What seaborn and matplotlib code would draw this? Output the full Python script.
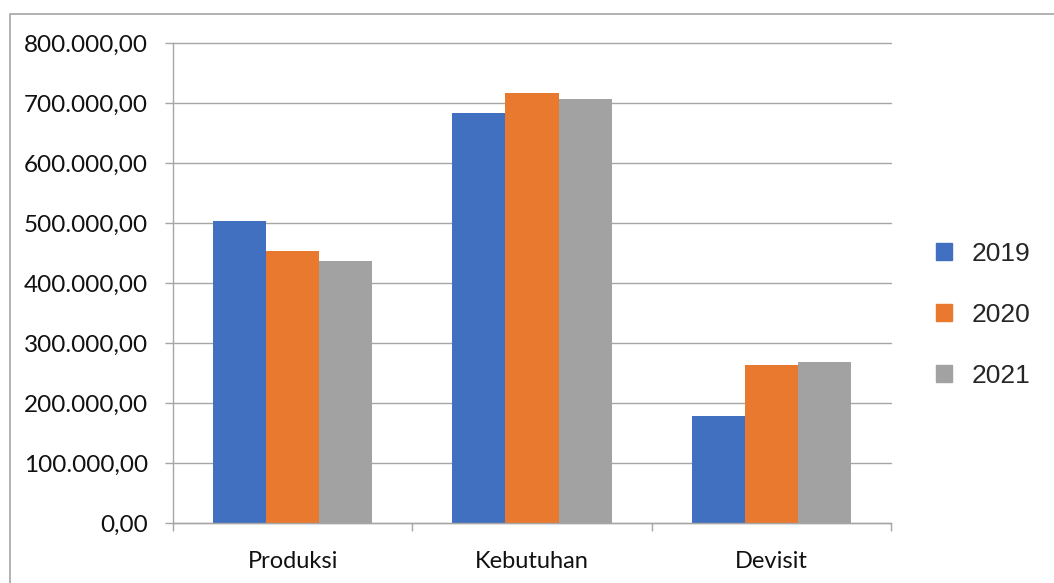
import matplotlib
matplotlib.use("Agg")
import matplotlib.pyplot as plt
import seaborn as sns
import pandas as pd
from matplotlib.patches import Rectangle
from matplotlib.ticker import FuncFormatter, MultipleLocator

categories = ["Produksi", "Kebutuhan", "Devisit"]
years = ["2019", "2020", "2021"]
values_2019 = [504300, 684000, 178000]
values_2020 = [453600, 717400, 263800]
values_2021 = [437900, 706700, 268800]
colors = ["#4170C0", "#E8792F", "#A2A2A2"]

rows = []
for yr, vals in zip(years, [values_2019, values_2020, values_2021]):
    for c, v in zip(categories, vals):
        rows.append({"Kategori": c, "Tahun": yr, "Nilai": v})
df = pd.DataFrame(rows)

sns.set_theme(style="white")
plt.rcParams['font.family'] = ['Lato', 'DejaVu Sans']

fig = plt.figure(figsize=(10.54, 5.83), dpi=100)
ax = fig.add_axes([173/1054, 1-523/583, (891-173)/1054, (523-43.5)/583])

sns.barplot(data=df, x="Kategori", y="Nilai", hue="Tahun", order=categories,
            hue_order=years, palette=colors, width=0.667, gap=0, ax=ax,
            saturation=1, linewidth=0, errorbar=None)

ax.set_ylim(0, 800000)
ax.set_xlim(-0.5, 2.5)
ax.yaxis.set_major_locator(MultipleLocator(100000))

def fmt(v, pos):
    s = f"{v:,.2f}"
    return s.replace(",", "X").replace(".", ",").replace("X", ".")
ax.yaxis.set_major_formatter(FuncFormatter(fmt))

ax.grid(axis="y", color="#A6A6A6", linewidth=1.0)
for gl in ax.get_ygridlines():
    gl.set_clip_on(False)
ax.set_axisbelow(True)
for s in ["top", "right"]:
    ax.spines[s].set_visible(False)
for s in ["left", "bottom"]:
    ax.spines[s].set_color("#A6A6A6")
    ax.spines[s].set_linewidth(1.0)

ax.set_xlabel("")
ax.set_ylabel("")
ax.tick_params(axis="y", length=6, width=1, color="#A6A6A6", pad=12, labelsize=17.5, labelcolor="#111111", left=True)
ax.tick_params(axis="x", length=0, pad=20, labelsize=17, labelcolor="#111111")
# category boundary ticks on x axis
ax.set_xticks([-0.5, 0.5, 1.5, 2.5], minor=True)
ax.tick_params(axis="x", which="minor", length=6, width=1, color="#A6A6A6", bottom=True)

ax.legend_.remove()
handles = [Rectangle((0, 0), 1, 1, color=c) for c in colors]
fig.legend(handles, years, loc="center left", bbox_to_anchor=(936/1054, 1-315/583),
           frameon=False, handlelength=0.6, handleheight=0.6,
           labelspacing=1.4, handletextpad=0.75, borderpad=0, borderaxespad=0,
           prop={"family": "Liberation Sans", "size": 19})

fig.patches.append(Rectangle((10/1054, -0.1), 1.2, (583-13.5)/583 + 0.1,
                             transform=fig.transFigure, fill=False,
                             edgecolor="#A6A6A6", linewidth=1.2))

fig.savefig("out.png", dpi=100, facecolor="white")
